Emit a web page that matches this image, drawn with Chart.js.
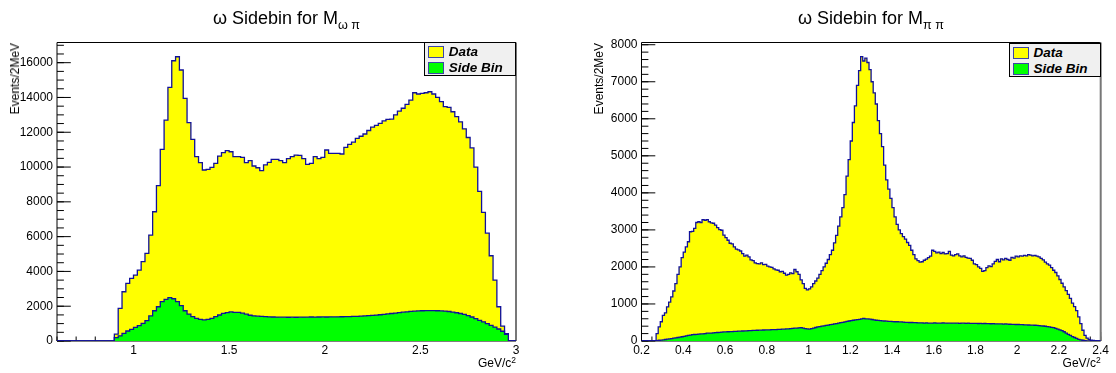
<!DOCTYPE html>
<html>
<head>
<meta charset="utf-8">
<title>ω Sidebin</title>
<script src="https://cdn.jsdelivr.net/npm/chart.js@4.4.1/dist/chart.umd.min.js"></script>
<style>
  html, body { margin: 0; padding: 0; background: #fff; }
  body { position: relative; width: 1116px; height: 373px; overflow: hidden;
         font-family: "Liberation Sans", Arial, Helvetica, sans-serif; color: #000; }
  canvas { position: absolute; top: 0; }
  .title { position: absolute; top: 8px; font-size: 18px; line-height: 20px; white-space: nowrap; transform: translateX(-50%); }
  .title sub { font-size: 12.6px; vertical-align: -5px; line-height: 0; }
  .ytitle { position: absolute; top: 43px; font-size: 12px; line-height: 14px; white-space: nowrap;
            writing-mode: vertical-rl; transform: rotate(180deg); }
  .xtitle { position: absolute; top: 356px; font-size: 12px; line-height: 14px; white-space: nowrap; }
  .xtitle sup { font-size: 8.5px; vertical-align: 4px; line-height: 0; }
  .legend { position: absolute; box-sizing: border-box; width: 92px; height: 34px; border: 1px solid #000; background: #f0f0f0; }
  .legend .row { position: absolute; left: 2.5px; height: 12px; white-space: nowrap;
                 font: italic bold 13.5px/12px "Liberation Sans", Arial, sans-serif; }
  .legend .swatch { display: inline-block; box-sizing: border-box; width: 16px; height: 12px;
                    border: 1.5px solid #3b45a8; vertical-align: top; margin-right: 5px; }
</style>
</head>
<body>

<canvas id="chartOmegaPi" width="558" height="373" style="left:0"></canvas>
<canvas id="chartPiPi" width="558" height="373" style="left:558px"></canvas>

<div class="title" style="left:286.5px">ω Sidebin for M<sub>ω π</sub></div>
<div class="title" style="left:871px">ω Sidebin for M<sub>π π</sub></div>

<div class="ytitle" style="left:8px">Events/2MeV</div>
<div class="ytitle" style="left:592px">Events/2MeV</div>

<div class="xtitle" style="right:600px">GeV/c<sup>2</sup></div>
<div class="xtitle" style="right:15.3px">GeV/c<sup>2</sup></div>

<div class="legend" style="left:424.3px; top:42.3px">
  <div class="row" style="top:3px"><span class="swatch" style="background:#ffff00"></span>Data</div>
  <div class="row" style="top:19px"><span class="swatch" style="background:#00ff00"></span>Side Bin</div>
</div>
<div class="legend" style="left:1009px; top:42.5px">
  <div class="row" style="top:3px"><span class="swatch" style="background:#ffff00"></span>Data</div>
  <div class="row" style="top:19px"><span class="swatch" style="background:#00ff00"></span>Side Bin</div>
</div>

<script>
// M(omega pi): 120 bins of 20 MeV starting at 0.6 GeV
const omegaPiLow = 0.6;
const omegaPiWidth = 0.02;
const omegaPiData = [
  0, 0, 0, 0, 0, 0, 0, 0, 0, 0,
  0, 0, 0, 0, 0, 400, 1880, 2830, 3310, 3600,
  3790, 4080, 4560, 5040, 6090, 7430, 8930, 11020, 12700, 14580,
  16110, 16340, 15580, 13950, 12550, 11590, 10600, 10250, 9830, 9870,
  9980, 10210, 10630, 10830, 10940, 10880, 10600, 10600, 10560, 10250,
  10370, 10060, 9960, 9790, 10120, 10270, 10440, 10440, 10370, 10250,
  10480, 10600, 10690, 10670, 10480, 10150, 10210, 10600, 10480, 10560,
  10980, 10790, 10790, 10790, 10750, 11130, 11300, 11430, 11650, 11770,
  11900, 12100, 12300, 12400, 12510, 12650, 12740, 12750, 13000, 13220,
  13380, 13600, 13850, 14270, 14200, 14230, 14270, 14330, 14200, 14000,
  13760, 13470, 13430, 13180, 12900, 12600, 12200, 11700, 11100, 10000,
  8600, 7400, 6200, 4900, 3500, 1970, 850, 420, 0, 0
];
const omegaPiSide = [
  0, 0, 0, 0, 0, 0, 0, 0, 0, 0,
  0, 0, 0, 0, 0, 190, 300, 440, 575, 670,
  785, 880, 1015, 1170, 1440, 1740, 1970, 2260, 2395, 2490,
  2430, 2260, 2030, 1740, 1550, 1400, 1300, 1245, 1210, 1245,
  1300, 1400, 1495, 1590, 1630, 1670, 1650, 1640, 1600, 1540,
  1480, 1450, 1430, 1410, 1400, 1390, 1380, 1375, 1370, 1370,
  1365, 1370, 1365, 1370, 1375, 1370, 1380, 1375, 1380, 1385,
  1380, 1390, 1385, 1390, 1395, 1400, 1405, 1410, 1420, 1430,
  1440, 1455, 1470, 1490, 1510, 1530, 1555, 1580, 1605, 1630,
  1655, 1680, 1700, 1715, 1730, 1740, 1745, 1750, 1745, 1740,
  1730, 1720, 1695, 1665, 1625, 1580, 1530, 1460, 1380, 1290,
  1190, 1100, 1000, 900, 800, 690, 560, 380, 0, 0
];
const omegaPiXTicks = [1, 1.5, 2, 2.5, 3];
const omegaPiYTicks = [0, 2000, 4000, 6000, 8000, 10000, 12000, 14000, 16000];

// M(pi pi): 220 bins of 10 MeV starting at 0.2 GeV
const piPiLow = 0.2;
const piPiWidth = 0.01;
const piPiData = [
  0, 0, 0, 0, 0, 0, 0, 200, 380, 520,
  690, 760, 920, 1050, 1190, 1350, 1550, 1800, 2000, 2250,
  2400, 2540, 2680, 2950, 2960, 3040, 3200, 3220, 3200, 3280,
  3260, 3280, 3220, 3190, 3180, 3130, 3060, 3010, 2990, 2860,
  2790, 2720, 2640, 2620, 2540, 2480, 2460, 2430, 2360, 2290,
  2320, 2270, 2190, 2170, 2110, 2090, 2080, 2110, 2060, 2070,
  2020, 2000, 1990, 1950, 1920, 1910, 1870, 1880, 1830, 1780,
  1800, 1840, 1820, 1930, 1870, 1800, 1650, 1550, 1420, 1380,
  1410, 1460, 1550, 1620, 1700, 1800, 1900, 2000, 2100, 2200,
  2330, 2450, 2650, 2850, 3100, 3350, 3600, 3950, 4450, 4900,
  5400, 5900, 6350, 6900, 7300, 7680, 7560, 7640, 7520, 7330,
  7000, 6700, 6400, 5950, 5600, 5250, 4750, 4350, 4100, 3850,
  3600, 3350, 3150, 3000, 2900, 2820, 2750, 2660, 2580, 2450,
  2330, 2220, 2170, 2130, 2140, 2180, 2210, 2250, 2290, 2450,
  2420, 2380, 2400, 2360, 2390, 2350, 2360, 2420, 2320, 2300,
  2330, 2350, 2300, 2270, 2300, 2260, 2240, 2230, 2180, 2080,
  2060, 2000, 1960, 1880, 1900, 1980, 2030, 2010, 2080, 2150,
  2200, 2140, 2220, 2190, 2230, 2200, 2180, 2260, 2240, 2290,
  2270, 2300, 2290, 2310, 2300, 2330, 2320, 2300, 2310, 2290,
  2270, 2230, 2190, 2130, 2080, 2050, 1980, 1910, 1850, 1760,
  1660, 1560, 1460, 1360, 1260, 1150, 1020, 930, 820, 650,
  470, 290, 150, 80, 40, 20, 15, 10, 5, 0
];
const piPiSide = [
  0, 0, 0, 0, 0, 0, 0, 10, 20, 25,
  30, 40, 50, 55, 65, 75, 85, 95, 105, 115,
  125, 140, 150, 160, 170, 175, 180, 185, 190, 195,
  200, 210, 215, 215, 220, 225, 230, 235, 240, 245,
  245, 250, 252, 255, 258, 262, 265, 268, 270, 272,
  275, 278, 282, 285, 288, 290, 292, 295, 297, 300,
  300, 302, 305, 305, 308, 312, 315, 318, 320, 325,
  330, 333, 340, 345, 350, 355, 360, 345, 335, 325,
  320, 335, 350, 365, 380, 390, 400, 410, 420, 430,
  440, 450, 460, 470, 480, 495, 505, 515, 530, 540,
  550, 560, 570, 575, 585, 595, 610, 600, 595, 590,
  580, 570, 560, 555, 550, 545, 540, 535, 530, 530,
  525, 520, 520, 515, 515, 510, 505, 505, 500, 500,
  495, 495, 490, 490, 490, 485, 490, 485, 480, 485,
  490, 485, 480, 485, 490, 480, 485, 480, 485, 480,
  485, 480, 478, 482, 480, 476, 480, 478, 475, 478,
  475, 472, 476, 470, 472, 468, 470, 466, 468, 464,
  465, 462, 460, 458, 460, 455, 452, 450, 448, 446,
  445, 442, 440, 438, 435, 432, 430, 428, 425, 420,
  415, 410, 405, 398, 390, 380, 370, 360, 340, 320,
  300, 280, 250, 210, 180, 150, 120, 95, 70, 45,
  30, 20, 10, 5, 0, 0, 0, 0, 0, 0
];
const piPiXTicks = [0.2, 0.4, 0.6, 0.8, 1, 1.2, 1.4, 1.6, 1.8, 2, 2.2, 2.4];
const piPiYTicks = [0, 1000, 2000, 3000, 4000, 5000, 6000, 7000, 8000];

const LINE_COLOR = '#10109a';

// bin contents -> points at the low edge of each bin, closed at the upper edge
function toHist(low, width, counts) {
    const pts = counts.map((c, i) => ({ x: low + i * width, y: c }));
    pts.push({ x: low + counts.length * width, y: 0 });
    return pts;
}

function range(from, to, step) {
    const out = [];
    for (let v = from; v <= to + step * 0.001; v += step) out.push(+v.toFixed(4));
    return out;
}

// ROOT-like frame and inward tick marks, drawn under the histograms
const rootFrame = {
    id: 'rootFrame',
    beforeDatasetsDraw(chart, args, opts) {
        const { ctx, chartArea: a, scales: { x, y } } = chart;
        ctx.save();
        ctx.strokeStyle = '#000';
        ctx.lineWidth = 1;
        ctx.beginPath();
        opts.yMinor.forEach(v => {
            const py = y.getPixelForValue(v);
            ctx.moveTo(a.left, py);
            ctx.lineTo(a.left + 6.9, py);
        });
        opts.yMajor.forEach(v => {
            const py = y.getPixelForValue(v);
            ctx.moveTo(a.left, py);
            ctx.lineTo(a.left + 13.8, py);
        });
        opts.xMinor.forEach(v => {
            const px = x.getPixelForValue(v);
            ctx.moveTo(px, a.bottom);
            ctx.lineTo(px, a.bottom - 4.5);
        });
        opts.xMajor.forEach(v => {
            const px = x.getPixelForValue(v);
            ctx.moveTo(px, a.bottom);
            ctx.lineTo(px, a.bottom - 9);
        });
        ctx.stroke();

        ctx.beginPath();
        ctx.moveTo(a.right, a.top);
        ctx.lineTo(a.left, a.top);
        ctx.lineTo(a.left, a.bottom);
        ctx.lineTo(a.right, a.bottom);
        ctx.stroke();
        ctx.strokeStyle = '#777';
        ctx.lineWidth = 2;
        ctx.beginPath();
        ctx.moveTo(a.right, a.top);
        ctx.lineTo(a.right, a.bottom);
        ctx.stroke();
        ctx.restore();
    }
};

function histChart(id, cfg) {
    const tickFont = { family: '"Liberation Sans", Arial, sans-serif', size: 12 };
    return new Chart(document.getElementById(id), {
        type: 'line',
        data: {
            datasets: [
                {
                    label: 'Side Bin',
                    data: toHist(cfg.low, cfg.width, cfg.side),
                    order: 1,
                    stepped: 'before',
                    fill: 'origin',
                    backgroundColor: '#00ff00',
                    borderColor: LINE_COLOR,
                    borderWidth: 1.3,
                    pointRadius: 0
                },
                {
                    label: 'Data',
                    data: toHist(cfg.low, cfg.width, cfg.data),
                    order: 2,
                    stepped: 'before',
                    fill: 'origin',
                    backgroundColor: '#ffff00',
                    borderColor: LINE_COLOR,
                    borderWidth: 1.3,
                    pointRadius: 0
                }
            ]
        },
        options: {
            responsive: false,
            animation: false,
            events: [],
            layout: { padding: { left: 0, top: 42.5, right: cfg.padRight, bottom: 0 } },
            plugins: {
                legend: { display: false },
                tooltip: { enabled: false },
                rootFrame: cfg.ticks
            },
            scales: {
                x: {
                    type: 'linear',
                    min: cfg.xMin,
                    max: cfg.xMax,
                    grid: { display: false, drawTicks: false },
                    border: { display: false },
                    afterBuildTicks: s => { s.ticks = cfg.xTicks.map(v => ({ value: v })); },
                    afterFit: s => { s.height = 32; },
                    ticks: {
                        autoSkip: false,
                        maxRotation: 0,
                        padding: 2,
                        color: '#000',
                        font: tickFont,
                        callback: v => String(v)
                    }
                },
                y: {
                    type: 'linear',
                    min: 0,
                    max: cfg.yMax,
                    grid: { display: false, drawTicks: false },
                    border: { display: false },
                    afterBuildTicks: s => { s.ticks = cfg.yTicks.map(v => ({ value: v })); },
                    afterFit: s => { s.width = cfg.yWidth; },
                    ticks: {
                        padding: 4,
                        color: '#000',
                        font: tickFont,
                        callback: v => String(v)
                    }
                }
            }
        },
        plugins: [rootFrame]
    });
}

histChart('chartOmegaPi', {
    low: omegaPiLow, width: omegaPiWidth,
    data: omegaPiData, side: omegaPiSide,
    xMin: 0.6, xMax: 3.0, yMax: 17160,
    xTicks: omegaPiXTicks, yTicks: omegaPiYTicks,
    yWidth: 57, padRight: 42,
    ticks: {
        xMajor: omegaPiXTicks,
        xMinor: range(0.6, 3.0, 0.1),
        yMajor: omegaPiYTicks,
        yMinor: range(0, 17000, 500)
    }
});

histChart('chartPiPi', {
    low: piPiLow, width: piPiWidth,
    data: piPiData, side: piPiSide,
    xMin: 0.2, xMax: 2.4, yMax: 8060,
    xTicks: piPiXTicks, yTicks: piPiYTicks,
    yWidth: 83.5, padRight: 15.3,
    ticks: {
        xMajor: piPiXTicks,
        xMinor: range(0.2, 2.4, 0.05),
        yMajor: piPiYTicks,
        yMinor: range(0, 8000, 200)
    }
});
</script>
</body>
</html>
